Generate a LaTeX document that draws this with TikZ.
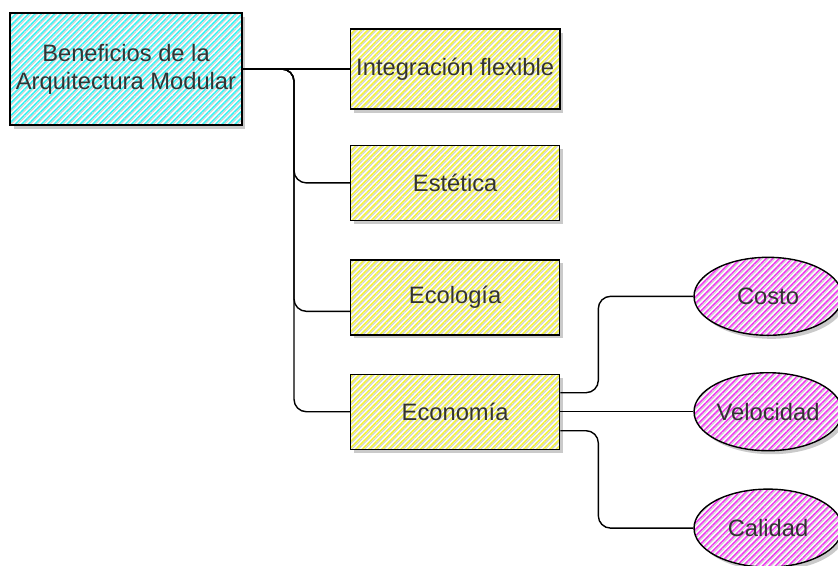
\documentclass[tikz,border=0pt]{standalone}
\usepackage{fontspec}
\setmainfont{Liberation Sans}
\usetikzlibrary{positioning}
\usetikzlibrary{shapes.geometric}
\usetikzlibrary{patterns.meta}
\usetikzlibrary{shadows}
\usetikzlibrary{calc}
\usepackage{xcolor}
\definecolor{hatchcyan}{HTML}{3CF2F2}
\definecolor{hatchyellow}{HTML}{F2F23C}
\definecolor{hatchpink}{HTML}{F03CF0}
\definecolor{labelgray}{HTML}{333333}

\begin{document}
\begin{tikzpicture}[
		% Style definitions
		hatched/.style={
			preaction={fill=white},
			preaction={pattern={Lines[angle=45, distance=2.6pt, xshift=1.3pt, line width=0.6pt]}, pattern color=black!18},
			preaction={pattern={Lines[angle=45, distance=2.6pt, line width=0.9pt]}, pattern color=#1}},
		shade/.style={drop shadow={shadow xshift=2pt, shadow yshift=-2pt, opacity=0.35, fill=black!60}},
		root/.style={draw, thick, shade, hatched=hatchcyan, minimum width=4.56cm, minimum height=2.24cm,
			align=center, text=labelgray, font=\fontsize{13.5}{16}\selectfont},
		topic/.style={draw, thick, shade, hatched=hatchyellow, minimum width=4.18cm, minimum height=1.5cm,
			align=center, text=labelgray, font=\fontsize{13.5}{16}\selectfont},
		detail/.style={ellipse, draw, thick, shade, hatched=hatchpink, minimum width=2.96cm, minimum height=1.56cm,
			inner sep=0pt, text=labelgray, font=\fontsize{13.5}{16}\selectfont},
		link/.style={thick, rounded corners=7pt},
		node distance=0.76cm,
		]
		\useasboundingbox (-2.52,1.38) rectangle (14.24,-9.94);

		% === Root and first column ===
		\node[root] (root) {Beneficios de la\\Arquitectura Modular};
		\node[topic, minimum height=1.6cm, right=2.14cm of root] (integracion) {Integración flexible};
		\node[topic, below=0.7cm of integracion] (estetica) {Estética};
		\node[topic, below=of estetica] (ecologia) {Ecología};
		\node[topic, below=of ecologia] (economia) {Economía};

		% === Second column: ellipses ===
		\node[detail, right=2.66cm of economia] (velocidad) {Velocidad};
		\node[detail, above=0.72cm of velocidad] (costo) {Costo};
		\node[detail, below=0.74cm of velocidad] (calidad) {Calidad};

		% === Connectors root -> topics ===
		\coordinate (bus) at ($(root.east)!0.48!(integracion.west)$);
		\draw[link] (root.east) -- (integracion.west);
		\draw[link] (root.east) -- (bus) |- (estetica.west);
		\draw[link] (root.east) -- (bus) |- ([yshift=-0.28cm]ecologia.west);
		\draw[link] (root.east) -- (bus) |- (economia.west);

		% === Connectors economia -> details ===
		\coordinate (fork) at ($(economia.east)+(0.76,0)$);
		\draw[link] ([yshift=0.38cm]economia.east) -- ([yshift=0.38cm]fork) |- (costo.west);
		\draw[link] (economia.east) -- (velocidad.west);
		\draw[link] ([yshift=-0.38cm]economia.east) -- ([yshift=-0.38cm]fork) |- (calidad.west);

	\end{tikzpicture}
\end{document}
